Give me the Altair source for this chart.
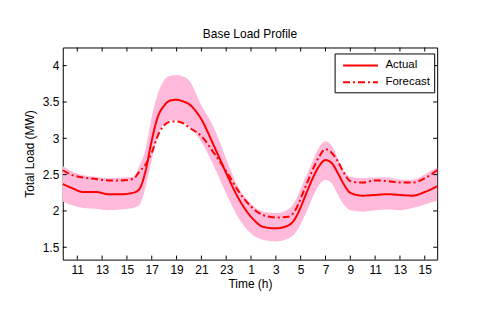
import altair as alt
import pandas as pd

hours = [9.83, 10.5, 11.5, 12.5, 13.5, 14.5, 15.5, 16, 16.5, 17, 17.5, 18, 18.5, 19, 19.5, 20,
         21, 22, 23, 24, 25, 26, 27, 28, 28.5, 29, 29.5, 30, 30.5, 31, 31.5, 32, 32.5, 33,
         34, 35, 36, 37, 38, 39, 40]
actual = [2.37, 2.32, 2.26, 2.26, 2.23, 2.23, 2.25, 2.30, 2.55, 2.97, 3.30, 3.45, 3.52, 3.53, 3.51, 3.47,
          3.26, 2.90, 2.52, 2.17, 1.92, 1.78, 1.76, 1.80, 1.88, 2.05, 2.26, 2.46, 2.62, 2.70, 2.66, 2.52, 2.36, 2.25,
          2.21, 2.22, 2.23, 2.22, 2.21, 2.26, 2.34]
forecast = [2.56, 2.50, 2.46, 2.44, 2.42, 2.42, 2.44, 2.54, 2.64, 2.80, 3.04, 3.18, 3.23, 3.23, 3.21, 3.15,
            3.03, 2.80, 2.55, 2.27, 2.06, 1.94, 1.91, 1.92, 1.99, 2.17, 2.38, 2.58, 2.75, 2.85, 2.80, 2.68, 2.52, 2.41,
            2.39, 2.42, 2.41, 2.39, 2.39, 2.45, 2.56]
upper = [2.62, 2.55, 2.49, 2.47, 2.45, 2.46, 2.47, 2.62, 2.85, 3.30, 3.62, 3.80, 3.86, 3.87, 3.85, 3.80,
         3.45, 3.15, 2.72, 2.32, 2.10, 1.99, 1.97, 2.02, 2.12, 2.30, 2.50, 2.70, 2.88, 2.96, 2.90, 2.72, 2.55, 2.47,
         2.45, 2.46, 2.46, 2.43, 2.43, 2.50, 2.60]
lower = [2.13, 2.08, 2.04, 2.03, 2.01, 2.02, 2.04, 2.08, 2.33, 2.70, 3.05, 3.20, 3.25, 3.25, 3.22, 3.16,
         2.95, 2.62, 2.24, 1.90, 1.69, 1.60, 1.58, 1.62, 1.68, 1.82, 2.00, 2.20, 2.36, 2.43, 2.38, 2.22, 2.08, 2.01,
         1.99, 2.01, 2.02, 2.01, 2.04, 2.09, 2.14]

x_ticks = [11, 13, 15, 17, 19, 21, 23, 25, 27, 29, 31, 33, 35, 37, 39]
y_ticks = [1.5, 2, 2.5, 3, 3.5, 4]
series_names = ["Actual", "Forecast"]

W, H = 376, 213
FONT = "Liberation Sans"

lines = pd.DataFrame({
    "h": hours * 2,
    "load": actual + forecast,
    "series": ["Actual"] * len(hours) + ["Forecast"] * len(hours),
})
band = pd.DataFrame({"h": hours, "lo": lower, "hi": upper})
xt = pd.DataFrame({"t": x_ticks})
yt = pd.DataFrame({"t": y_ticks})

xs = alt.Scale(domain=[9.83, 40], nice=False, zero=False)
ys = alt.Scale(domain=[1.33, 4.25], nice=False, zero=False)

xaxis = alt.Axis(values=x_ticks, labelExpr="datum.value > 24 ? datum.value - 24 : datum.value",
                 title="Time (h)", grid=False, domain=False, ticks=False, labelPadding=5,
                 titlePadding=3, labelOverlap=False, labelFlush=False)
yaxis = alt.Axis(values=y_ticks, format="~g", title="Total Load (MW)", grid=False, domain=False, ticks=False,
                 labelPadding=4, titlePadding=6, labelOverlap=False, labelFlush=False)

area = alt.Chart(band).mark_area(color="#FFBADB", opacity=1, interpolate="monotone").encode(
    x=alt.X("h:Q", scale=xs, axis=xaxis),
    y=alt.Y("lo:Q", scale=ys, axis=yaxis),
    y2="hi:Q",
)

line = alt.Chart(lines).mark_line(strokeWidth=2, interpolate="monotone").encode(
    x=alt.X("h:Q", scale=xs, axis=xaxis),
    y=alt.Y("load:Q", scale=ys, axis=yaxis),
    color=alt.Color("series:N", scale=alt.Scale(domain=series_names, range=["#FF0000", "#FF0000"]),
                    legend=alt.Legend(title=None)),
    strokeDash=alt.StrokeDash("series:N", scale=alt.Scale(domain=series_names, range=[[1, 0], [7, 3, 2, 3]]),
                              legend=alt.Legend(title=None)),
)

tick_style = dict(color="black", strokeWidth=1)
xb = alt.Chart(xt).mark_rule(**tick_style).encode(x=alt.X("t:Q", scale=xs, axis=xaxis), y=alt.value(H), y2=alt.value(H - 4))
xtop = alt.Chart(xt).mark_rule(**tick_style).encode(x=alt.X("t:Q", scale=xs, axis=xaxis), y=alt.value(0), y2=alt.value(4))
yl = alt.Chart(yt).mark_rule(**tick_style).encode(y=alt.Y("t:Q", scale=ys, axis=yaxis), x=alt.value(0), x2=alt.value(4))
yr = alt.Chart(yt).mark_rule(**tick_style).encode(y=alt.Y("t:Q", scale=ys, axis=yaxis), x=alt.value(W), x2=alt.value(W - 4))

chart = alt.layer(area, line, xb, xtop, yl, yr).properties(
    width=W, height=H,
    title=alt.TitleParams("Base Load Profile", fontSize=12, fontWeight="normal", font=FONT, offset=6),
    autosize=alt.AutoSizeParams(type="none"),
    padding={"left": 55, "top": 39, "right": 40, "bottom": 60},
).configure_view(stroke="black", strokeWidth=1).configure_axis(
    labelFont=FONT, titleFont=FONT, labelFontSize=12, titleFontSize=12,
    labelColor="black", titleColor="black", titleFontWeight="normal",
    labelOverlap=False,
).configure_legend(
    orient="none", legendX=273, legendY=6, strokeColor="black", fillColor="white",
    padding=4, labelFont=FONT, labelFontSize=11.5, labelColor="black",
    symbolType="M-2.5,0H2.5", symbolSize=196, symbolStrokeWidth=2, rowPadding=3,
    symbolOffset=14, labelOffset=17, cornerRadius=0,
)

chart.save("out.html", embed_options={"renderer": "svg", "actions": False})
